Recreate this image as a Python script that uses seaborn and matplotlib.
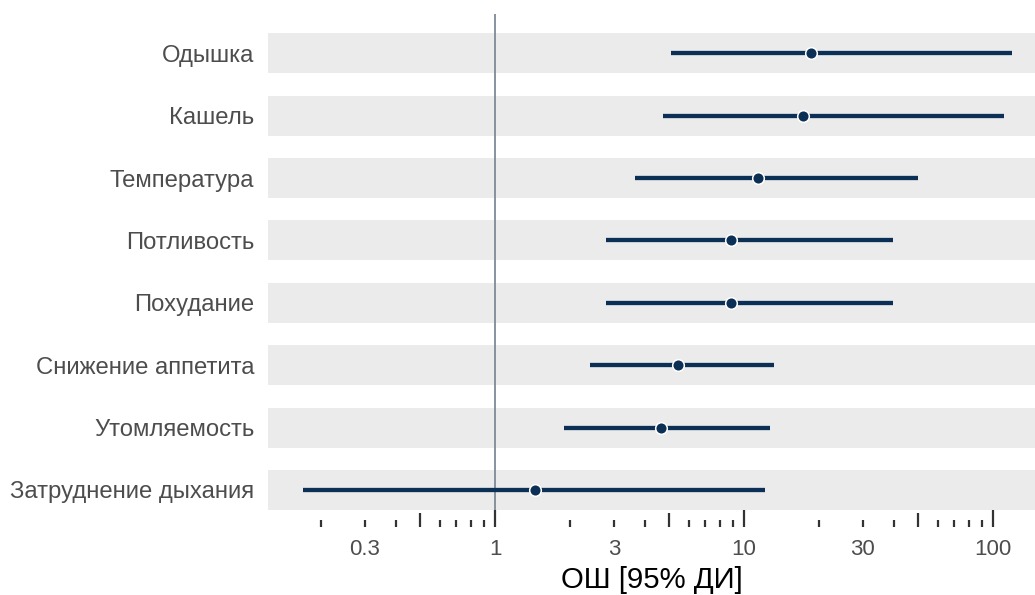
import numpy as np
import pandas as pd
import seaborn as sns
from matplotlib import pyplot as plt
from matplotlib import transforms

# Data (odds ratios with 95% CI)
symptoms = ['Одышка', 'Кашель', 'Температура', 'Потливость', 'Похудание',
            'Снижение аппетита', 'Утомляемость', 'Затруднение дыхания']
odds_ratio = [18.5, 17.2, 11.4, 8.9, 8.9, 5.45, 4.65, 1.45]
ci_low = [5.1, 4.75, 3.65, 2.8, 2.8, 2.4, 1.9, 0.17]
ci_high = [119, 111, 50, 39.5, 39.5, 13.2, 12.7, 12.1]
tick_labels = [0.3, 1, 3, 10, 30, 100]

navy = '#0b2f55'

df = pd.DataFrame({'symptom': symptoms, 'or': odds_ratio,
                   'lo': ci_low, 'hi': ci_high})
df['row'] = np.arange(len(df))[::-1]

sns.set_style("white")
plt.rcParams['font.family'] = ['Liberation Sans', 'DejaVu Sans']

fig = plt.figure(figsize=(10.35, 5.95), dpi=100)
ax = fig.add_axes([0.259, 0.143, 0.741, 0.833])

# grey bands behind each row
for r in df['row']:
    ax.axhspan(r - 0.32, r + 0.32, color='#ebebeb', lw=0, zorder=0)

ax.axvline(1, color='#7d8a96', lw=1.3, zorder=1)

ax.hlines(df['row'], df['lo'], df['hi'], color=navy, lw=3.1, zorder=2)
sns.scatterplot(data=df, x='or', y='row', ax=ax, color=navy, s=70,
                edgecolor='white', linewidth=1.1, zorder=3, legend=False)

ax.set_xscale('log')
ax.set_xlim(0.1226, 147.5)
ax.set_ylim(-0.32, 7.625)

ax.set_yticks(df['row'])
ax.set_yticklabels(df['symptom'], fontsize=17.2, color='#4d4d4d')
ax.tick_params(axis='y', length=0, pad=10)

ax.set_xticks(tick_labels)
ax.set_xticklabels([str(t) for t in tick_labels], fontsize=16, color='#4d4d4d')
ax.xaxis.set_minor_locator(plt.NullLocator())
ax.tick_params(axis='x', length=0, pad=21)
ax.set_xlabel('ОШ [95% ДИ]', fontsize=21.2, color='black', labelpad=4)
ax.set_ylabel('')

# log tick marks below the panel, bottom-aligned, three lengths
trans = transforms.blended_transform_factory(ax.transData, ax.transAxes)
px = 1 / (0.833 * 595)
base = -17 * px
for dec in [0.1, 1, 10, 100]:
    for m in range(1, 10):
        v = dec * m
        if v < 0.13 or v > 140:
            continue
        if m == 1:
            h = 17
        elif m == 5:
            h = 14
        else:
            h = 6.5
        ax.plot([v, v], [base, base + h * px], transform=trans,
                color='#333333', lw=1.6, clip_on=False, solid_capstyle='butt')

sns.despine(ax=ax, left=True, bottom=True)

fig.savefig('out.png', dpi=100)
